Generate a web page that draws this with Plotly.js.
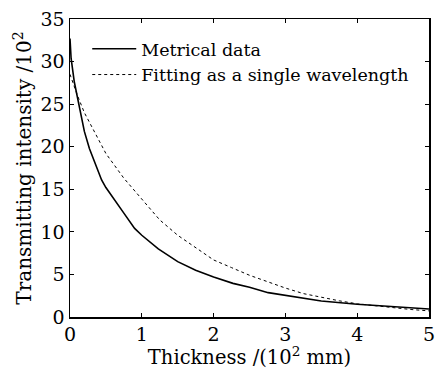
<!DOCTYPE html>
<html>
<head>
<meta charset="utf-8">
<script src="https://cdn.plot.ly/plotly-3.0.1.min.js"></script>
<style>html,body{margin:0;padding:0;background:#fff;}#chart{width:436px;height:369px;}</style>
</head>
<body>
<div id="chart"></div>
<script>
// Metrical data (solid)
const measX = [0, 0.015, 0.06, 0.1, 0.15, 0.2, 0.27, 0.36, 0.44, 0.5, 0.63, 0.75, 0.9, 1.0, 1.23, 1.5, 1.75, 2.0, 2.27, 2.5, 2.76, 3.0, 3.5, 4.0, 4.5, 5.0];
const measY = [32.7, 30.4, 27.6, 26.0, 23.7, 21.8, 19.8, 17.9, 16.1, 15.2, 13.7, 12.2, 10.4, 9.6, 8.0, 6.5, 5.5, 4.7, 3.95, 3.5, 2.86, 2.55, 1.88, 1.5, 1.2, 0.94];
// Fitting as a single wavelength (dotted)
const fitX = [0, 0.1, 0.2, 0.3, 0.5, 0.75, 1, 1.25, 1.5, 1.75, 2, 2.25, 2.5, 2.75, 3, 3.25, 3.5, 3.75, 4, 4.25, 4.5, 4.75, 5];
const fitY = [28.5, 26.1, 24.0, 22.4, 19.2, 16.3, 13.8, 11.4, 9.6, 8.1, 6.7, 5.8, 4.9, 4.15, 3.4, 2.75, 2.3, 1.9, 1.55, 1.3, 1.05, 0.88, 0.72];
const seriesNames = ["Metrical data", "Fitting as a single wavelength"];
const xTicks = [0, 1, 2, 3, 4, 5];
const yTicks = [0, 5, 10, 15, 20, 25, 30, 35];

const FONT = "DejaVu Serif, Liberation Serif, serif";
const traces = [
  {x: measX, y: measY, name: seriesNames[0], mode: "lines", line: {color: "#000", width: 1.6}},
  {x: fitX, y: fitY, name: seriesNames[1], mode: "lines", line: {color: "#000", width: 1, dash: "dot"}}
];
const axisCommon = {
  showline: true, mirror: "ticks", linecolor: "#000", linewidth: 1.5,
  ticks: "inside", ticklen: 4, tickcolor: "#000", showgrid: false, zeroline: false,
  tickfont: {family: FONT, size: 19, color: "#000"}
};
const layout = {
  width: 436, height: 369,
  margin: {l: 70, r: 7, t: 19, b: 52},
  paper_bgcolor: "#fff", plot_bgcolor: "#fff",
  font: {family: FONT, color: "#000"},
  showlegend: true,
  legend: {x: 0.048, y: 0.96, xanchor: "left", yanchor: "top", bgcolor: "rgba(0,0,0,0)", borderwidth: 0,
           font: {family: FONT, size: 17.5, color: "#000"}, tracegroupgap: 0, itemwidth: 44},
  xaxis: Object.assign({}, axisCommon, {range: [0, 5], tickvals: xTicks, ticktext: xTicks.map(String),
    title: {text: "Thickness /(10<sup>2</sup> mm)", font: {family: FONT, size: 19.5, color: "#000"}, standoff: 2}}),
  yaxis: Object.assign({}, axisCommon, {range: [0, 35], tickvals: yTicks, ticktext: yTicks.map(String),
    title: {text: "Transmitting intensity /10<sup>2</sup>", font: {family: FONT, size: 20, color: "#000"}, standoff: 3}})
};
Plotly.newPlot("chart", traces, layout, {displayModeBar: false, staticPlot: true});
</script>
</body>
</html>
